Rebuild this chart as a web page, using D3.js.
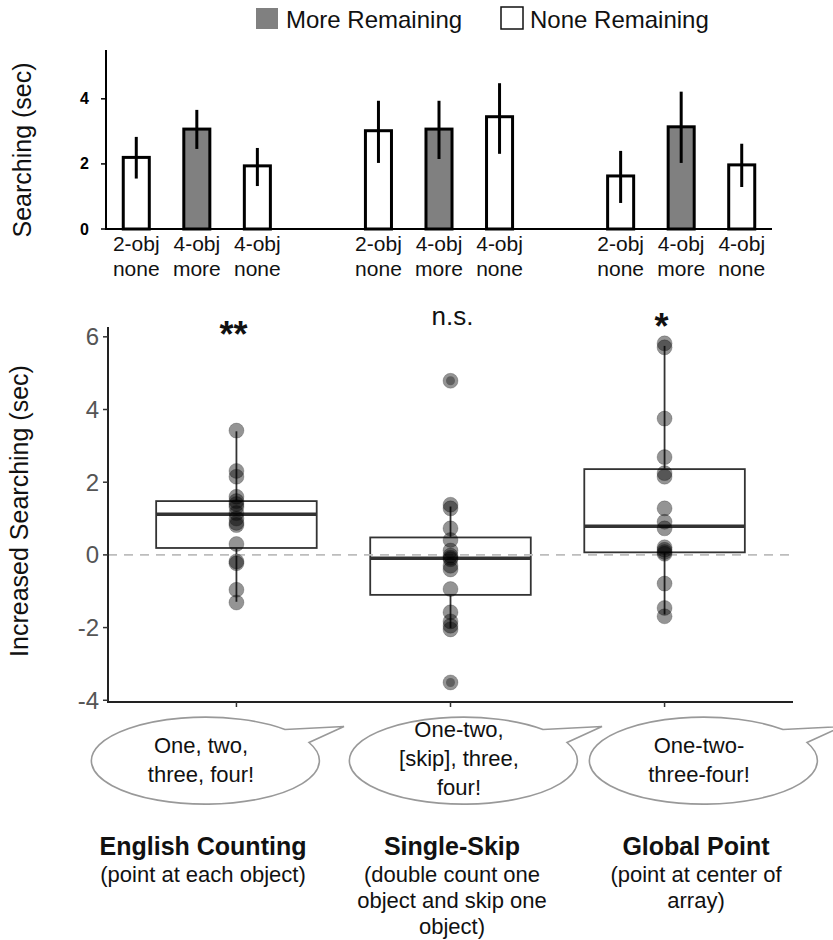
<!DOCTYPE html>
<html>
<head>
<meta charset="utf-8">
<script src="https://cdn.jsdelivr.net/npm/d3@7"></script>
<style>
  html, body { margin: 0; padding: 0; background: #fff; }
  svg { display: block; font-family: "Liberation Sans", Arial, Helvetica, sans-serif; }
</style>
</head>
<body>
<svg id="chart" width="833" height="940"></svg>
<script>
// ---------------- DATA ----------------
// Top panel: mean searching time per condition (3 groups x 3 conditions)
const barGroups = ["English Counting", "Single-Skip", "Global Point"];
const barLabelLine1 = ["2-obj", "4-obj", "4-obj"];
const barLabelLine2 = ["none", "more", "none"];
const barRemaining = ["none", "more", "none"];
const barMean    = [2.20, 3.07, 1.94, 3.02, 3.07, 3.45, 1.63, 3.14, 1.97];
const barErrLow  = [1.55, 2.46, 1.32, 2.03, 2.15, 2.31, 0.80, 2.03, 1.29];
const barErrHigh = [2.83, 3.66, 2.49, 3.94, 3.94, 4.48, 2.40, 4.22, 2.62];
const barTicks = [0, 2, 4];
const legendLabels = ["More Remaining", "None Remaining"];

// Bottom panel: increased searching (sec)
const boxCategories = ["English Counting", "Single-Skip", "Global Point"];
const boxQ1 = [0.19, -1.10, 0.07];
const boxMedian = [1.12, -0.09, 0.79];
const boxQ3 = [1.48, 0.48, 2.36];
const boxWhiskerLow = [-1.29, -2.01, -1.64];
const boxWhiskerHigh = [3.40, 1.33, 5.75];
const englishPoints = [3.42, 2.31, 2.15, 1.60, 1.48, 1.40, 1.32, 1.15, 1.00, 0.88, 0.82, 0.30, -0.18, -0.23, -0.96, -1.31];
const skipPoints = [4.79, 1.38, 1.28, 0.73, 0.41, 0.12, -0.02, -0.08, -0.12, -0.30, -0.40, -0.94, -1.58, -1.83, -1.95, -2.05, -3.51];
const globalPoints = [5.82, 5.71, 3.75, 2.69, 2.25, 2.15, 1.28, 0.91, 0.73, 0.21, 0.14, 0.08, 0.03, -0.79, -1.46, -1.69];
const skipOutliers = [4.79, -3.51];
const significance = ["**", "n.s.", "*"];
const boxTicks = [-4, -2, 0, 2, 4, 6];

const speech = [["One, two,", "three, four!"], ["One-two,", "[skip], three,", "four!"], ["One-two-", "three-four!"]];
const methodTitles = ["English Counting", "Single-Skip", "Global Point"];
const methodNotes = [["(point at each object)"], ["(double count one", "object and skip one", "object)"], ["(point at center of", "array)"]];

// ---------------- DRAW ----------------
const svg = d3.select("#chart");

// ===== Legend =====
const legend = svg.append("g");
legend.append("rect").attr("x", 256).attr("y", 8).attr("width", 22).attr("height", 21)
  .attr("fill", "#808080");
legend.append("text").attr("x", 286).attr("y", 28).attr("font-size", 24).attr("fill", "#111")
  .text(legendLabels[0]);
legend.append("rect").attr("x", 501).attr("y", 7).attr("width", 22).attr("height", 22)
  .attr("fill", "#fff").attr("stroke", "#111").attr("stroke-width", 1.5);
legend.append("text").attr("x", 530).attr("y", 28).attr("font-size", 24).attr("fill", "#111")
  .text(legendLabels[1]);

// ===== Top bar chart =====
const barData = barMean.map((m, i) => ({
  i, group: Math.floor(i / 3), cond: i % 3, mean: m, lo: barErrLow[i], hi: barErrHigh[i]
}));
const slots = d3.range(barGroups.length * 4 - 1);
const xb = d3.scaleBand().domain(slots).range([106, 772]).paddingInner(0.57).paddingOuter(0.285);
const yb = d3.scaleLinear().domain([0, 5.5]).range([229, 50]);
const slotOf = d => d.group * 4 + d.cond;

const topG = svg.append("g");
topG.selectAll("rect.bar").data(barData).join("rect").attr("class", "bar")
  .attr("x", d => xb(slotOf(d)))
  .attr("y", d => yb(d.mean))
  .attr("width", xb.bandwidth())
  .attr("height", d => yb(0) - yb(d.mean))
  .attr("fill", d => barRemaining[d.cond] === "more" ? "#808080" : "#fff")
  .attr("stroke", "#000").attr("stroke-width", 3);
topG.selectAll("line.err").data(barData).join("line").attr("class", "err")
  .attr("x1", d => xb(slotOf(d)) + xb.bandwidth() / 2)
  .attr("x2", d => xb(slotOf(d)) + xb.bandwidth() / 2)
  .attr("y1", d => yb(d.lo)).attr("y2", d => yb(d.hi))
  .attr("stroke", "#000").attr("stroke-width", 3);
// axes
topG.append("line").attr("x1", 106).attr("x2", 106).attr("y1", yb.range()[1]).attr("y2", yb(0) + 1)
  .attr("stroke", "#000").attr("stroke-width", 2);
topG.append("line").attr("x1", xb.range()[0]).attr("x2", xb.range()[1]).attr("y1", yb(0)).attr("y2", yb(0))
  .attr("stroke", "#000").attr("stroke-width", 2);
topG.selectAll("line.tk").data(barTicks).join("line").attr("class", "tk")
  .attr("x1", 101).attr("x2", 106).attr("y1", d => yb(d)).attr("y2", d => yb(d))
  .attr("stroke", "#000").attr("stroke-width", 1.5);
topG.selectAll("text.tkl").data(barTicks).join("text").attr("class", "tkl")
  .attr("x", 89).attr("y", d => yb(d) + 5.5).attr("text-anchor", "end")
  .attr("font-size", 16).attr("font-weight", "bold").text(d => d);
topG.append("text").attr("transform", "translate(31,150) rotate(-90)")
  .attr("text-anchor", "middle").attr("font-size", 25).attr("fill", "#111").text("Searching (sec)");
const xl = topG.selectAll("g.xl").data(barData).join("g").attr("class", "xl")
  .attr("transform", d => `translate(${xb(slotOf(d)) + xb.bandwidth() / 2},0)`);
xl.append("text").attr("y", 251).attr("text-anchor", "middle").attr("font-size", 21).attr("fill", "#111")
  .text(d => barLabelLine1[d.cond]);
xl.append("text").attr("y", 276).attr("text-anchor", "middle").attr("font-size", 21).attr("fill", "#111")
  .text(d => barLabelLine2[d.cond]);

// ===== Box plot =====
const x = d3.scalePoint().domain(boxCategories).range([108, 793]).padding(0.6);
const y = d3.scaleLinear().domain([-4.02, 6.27]).range([701, 327]);
const boxW = x.step() * 0.75;
const bot = svg.append("g");

const boxes = boxCategories.map((c, i) => ({
  c, q1: boxQ1[i], med: boxMedian[i], q3: boxQ3[i], lo: boxWhiskerLow[i], hi: boxWhiskerHigh[i]
}));
const bg = bot.selectAll("g.box").data(boxes).join("g").attr("class", "box");
bg.append("line").attr("x1", d => x(d.c)).attr("x2", d => x(d.c))
  .attr("y1", d => y(d.q3)).attr("y2", d => y(d.hi)).attr("stroke", "#333").attr("stroke-width", 1.8);
bg.append("line").attr("x1", d => x(d.c)).attr("x2", d => x(d.c))
  .attr("y1", d => y(d.q1)).attr("y2", d => y(d.lo)).attr("stroke", "#333").attr("stroke-width", 1.8);
bg.append("rect").attr("x", d => x(d.c) - boxW / 2).attr("width", boxW)
  .attr("y", d => y(d.q3)).attr("height", d => y(d.q1) - y(d.q3))
  .attr("fill", "#fff").attr("stroke", "#333").attr("stroke-width", 1.8);
bg.append("line").attr("x1", d => x(d.c) - boxW / 2).attr("x2", d => x(d.c) + boxW / 2)
  .attr("y1", d => y(d.med)).attr("y2", d => y(d.med)).attr("stroke", "#333").attr("stroke-width", 3.5);

// zero reference line (drawn over boxes, under points)
bot.append("line").attr("x1", 108).attr("x2", 790).attr("y1", y(0)).attr("y2", y(0))
  .attr("stroke", "#bdbdbd").attr("stroke-width", 1.8).attr("stroke-dasharray", "9,7");

// outliers (boxplot's own outlier dots)
bot.selectAll("circle.out").data(skipOutliers).join("circle").attr("class", "out")
  .attr("cx", x(boxCategories[1])).attr("cy", d => y(d)).attr("r", 4.5)
  .attr("fill", "#000").attr("fill-opacity", 0.35);

const pts = [];
[englishPoints, skipPoints, globalPoints].forEach((arr, i) => arr.forEach(v => pts.push({ c: boxCategories[i], v })));
bot.selectAll("circle.pt").data(pts).join("circle").attr("class", "pt")
  .attr("cx", d => x(d.c)).attr("cy", d => y(d.v)).attr("r", 7.5)
  .attr("fill", "#000").attr("fill-opacity", 0.42)
  .attr("stroke", "#000").attr("stroke-opacity", 0.2).attr("stroke-width", 1);

// axes
bot.append("line").attr("x1", 108).attr("x2", 108).attr("y1", 327).attr("y2", 702)
  .attr("stroke", "#222").attr("stroke-width", 2);
bot.append("line").attr("x1", 107).attr("x2", 793).attr("y1", 702).attr("y2", 702)
  .attr("stroke", "#222").attr("stroke-width", 2);
bot.selectAll("line.ytk").data(boxTicks).join("line").attr("class", "ytk")
  .attr("x1", 103).attr("x2", 108).attr("y1", d => y(d)).attr("y2", d => y(d))
  .attr("stroke", "#333").attr("stroke-width", 1.5);
bot.selectAll("text.ytl").data(boxTicks).join("text").attr("class", "ytl")
  .attr("x", 99).attr("y", d => y(d) + 8.5).attr("text-anchor", "end")
  .attr("font-size", 24).attr("fill", "#555").text(d => d);
bot.selectAll("line.xtk").data(boxCategories).join("line").attr("class", "xtk")
  .attr("x1", d => x(d)).attr("x2", d => x(d)).attr("y1", 702).attr("y2", 707)
  .attr("stroke", "#333").attr("stroke-width", 1.5);
bot.append("text").attr("transform", "translate(28,511) rotate(-90)")
  .attr("text-anchor", "middle").attr("font-size", 25).attr("fill", "#111").text("Increased Searching (sec)");

// significance labels
const sigY = [347, 325, 339];
bot.selectAll("text.sig").data(significance).join("text").attr("class", "sig")
  .attr("x", (d, i) => x(boxCategories[i]) + (i === 1 ? 2 : -3))
  .attr("y", (d, i) => sigY[i]).attr("text-anchor", "middle")
  .attr("font-size", (d, i) => i === 1 ? 26 : 36)
  .attr("font-weight", (d, i) => i === 1 ? "normal" : "bold")
  .attr("fill", "#111").text(d => d);

// ===== Speech bubbles =====
const bubbleCx = [201, 459, 699];
const bubbleCy = 758.5, rx = 114, ry = 43.5;
const bub = svg.append("g");
bubbleCx.forEach((cx, i) => {
  const s = [cx + 84, bubbleCy - 29], b = [cx + 108, bubbleCy - 16], t = [cx + 143, bubbleCy - 32];
  bub.append("path")
    .attr("d", `M${s[0]},${s[1]} A${rx},${ry} 0 1 0 ${b[0]},${b[1]} L${t[0]},${t[1]} Z`)
    .attr("fill", "#fff").attr("stroke", "#999").attr("stroke-width", 1.6).attr("stroke-linejoin", "miter");
  const lines = speech[i];
  const base = lines.length === 3 ? 737 : 753;
  lines.forEach((ln, k) => {
    bub.append("text").attr("x", cx).attr("y", base + k * 29).attr("text-anchor", "middle")
      .attr("font-size", 22).attr("fill", "#111").text(ln);
  });
});

// ===== Method labels =====
const labelCx = [203, 452, 696];
const lab = svg.append("g");
methodTitles.forEach((t, i) => {
  lab.append("text").attr("x", labelCx[i]).attr("y", 855).attr("text-anchor", "middle")
    .attr("font-size", 25).attr("font-weight", "bold").attr("fill", "#111").text(t);
  methodNotes[i].forEach((ln, k) => {
    lab.append("text").attr("x", labelCx[i]).attr("y", 882 + k * 26).attr("text-anchor", "middle")
      .attr("font-size", 22).attr("fill", "#111").text(ln);
  });
});
</script>
</body>
</html>
